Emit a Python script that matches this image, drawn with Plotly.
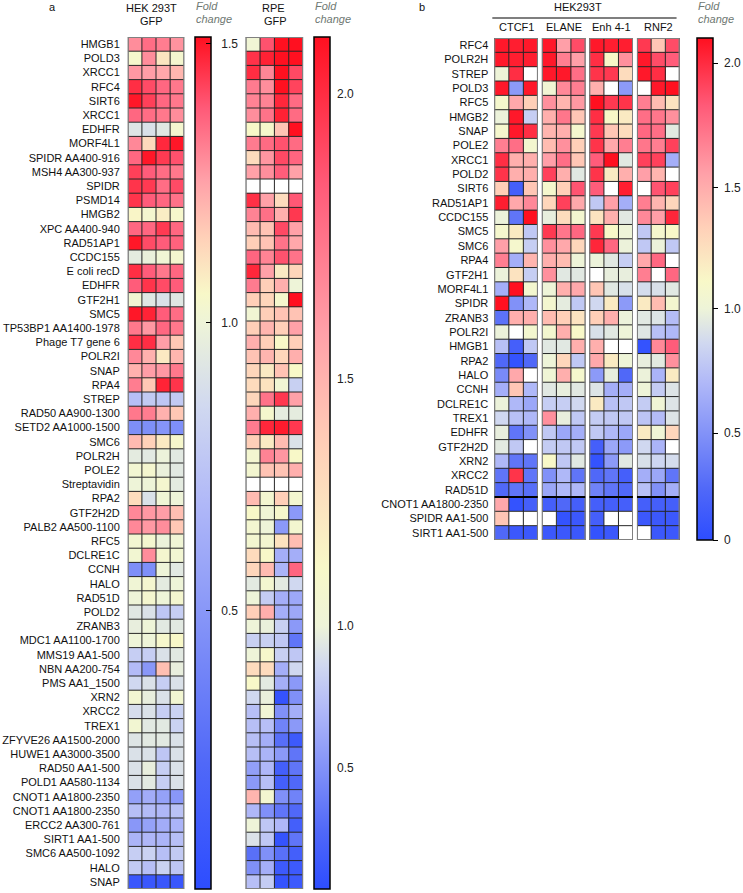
import numpy as np
import plotly.graph_objects as go

W, H = 743, 893
nan = float('nan')

# ---------------- panel a ----------------
a_genes = ['HMGB1', 'POLD3', 'XRCC1', 'RFC4', 'SIRT6', 'XRCC1', 'EDHFR', 'MORF4L1',
           'SPIDR AA400-916', 'MSH4 AA300-937', 'SPIDR', 'PSMD14', 'HMGB2', 'XPC AA400-940',
           'RAD51AP1', 'CCDC155', 'E coli recD', 'EDHFR', 'GTF2H1', 'SMC5',
           'TP53BP1 AA1400-1978', 'Phage T7 gene 6', 'POLR2I', 'SNAP', 'RPA4', 'STREP',
           'RAD50 AA900-1300', 'SETD2 AA1000-1500', 'SMC6', 'POLR2H', 'POLE2', 'Streptavidin',
           'RPA2', 'GTF2H2D', 'PALB2 AA500-1100', 'RFC5', 'DCLRE1C', 'CCNH', 'HALO', 'RAD51D',
           'POLD2', 'ZRANB3', 'MDC1 AA1100-1700', 'MMS19 AA1-500', 'NBN AA200-754',
           'PMS AA1_1500', 'XRN2', 'XRCC2', 'TREX1', 'ZFYVE26 AA1500-2000',
           'HUWE1 AA3000-3500', 'RAD50 AA1-500', 'POLD1 AA580-1134', 'CNOT1 AA1800-2350',
           'CNOT1 AA1800-2350', 'ERCC2 AA300-761', 'SIRT1 AA1-500', 'SMC6 AA500-1092',
           'HALO', 'SNAP']

hek_gfp = [
    [1.29, 1.35, 1.32, 1.28], [1.04, 1.29, 1.10, 1.03], [1.27, 1.26, 1.24, 1.21],
    [1.46, 1.41, 1.36, 1.33], [1.50, 1.43, 1.36, 1.33], [1.36, 1.35, 1.33, 1.29],
    [0.92, 0.90, 0.93, 1.03], [1.30, 1.13, 1.47, 1.50], [1.36, 1.50, 1.44, 1.40],
    [1.43, 1.38, 1.35, 1.33], [1.45, 1.44, 1.35, 1.41], [1.45, 1.38, 1.36, 1.34],
    [1.06, 1.03, 1.08, 1.04], [1.36, 1.36, 1.44, 1.36], [1.50, 1.41, 1.38, 1.37],
    [0.95, 0.98, 1.01, 1.03], [1.46, 1.38, 1.33, 1.36], [1.38, 1.45, 1.41, 1.38],
    [1.02, 0.93, 0.90, 0.93], [1.50, 1.48, 1.38, 1.35], [1.33, 1.27, 1.36, 1.33],
    [1.46, 1.46, 1.26, 1.17], [1.30, 1.22, 1.09, 1.21], [1.22, 1.26, 1.27, 1.33],
    [1.32, 1.17, 1.48, 1.45], [0.72, 0.78, 0.76, 0.78], [1.33, 1.32, 1.22, 1.17],
    [0.45, 0.45, 0.48, 0.45], [1.20, 1.15, 1.09, 1.04], [0.95, 0.94, 0.99, 0.94],
    [1.02, 1.03, 0.98, 0.94], [1.00, 1.00, 1.03, 0.95], [1.12, 0.90, 1.01, 1.00],
    [1.30, 1.27, 1.26, 1.19], [1.30, 1.27, 1.29, 1.17], [1.02, 1.03, 0.99, 1.01],
    [1.02, 1.29, 1.03, 1.02], [0.45, 0.45, 1.00, 0.94], [1.01, 1.03, 0.95, 1.00],
    [1.00, 1.03, 1.00, 1.03], [0.93, 0.90, 0.76, 0.80], [0.97, 1.00, 0.94, 0.94],
    [1.00, 1.00, 1.04, 1.05], [0.80, 0.80, 0.90, 0.94], [0.70, 0.50, 1.19, 0.97],
    [0.85, 0.90, 0.80, 0.90], [1.02, 0.97, 0.90, 1.02], [0.88, 0.90, 0.80, 0.82],
    [1.02, 0.94, 0.94, 0.82], [0.92, 0.94, 0.94, 0.90], [0.90, 0.90, 0.76, 0.90],
    [0.90, 0.97, 0.80, 0.90], [0.90, 0.94, 0.80, 0.90], [0.55, 0.62, 0.56, 0.50],
    [0.72, 0.70, 0.68, 0.74], [0.50, 0.56, 0.62, 0.66], [0.66, 0.68, 0.66, 0.72],
    [0.80, 0.82, 0.72, 0.78], [0.78, 0.72, 0.82, 0.76], [0.08, 0.08, 0.08, 0.08],
]

rpe_gfp = [
    [1.02, 1.87, 2.12, 2.12], [1.98, 2.04, 2.12, 2.10], [2.00, 1.68, 2.10, 1.90],
    [1.72, 1.65, 2.10, 1.92], [1.69, 1.69, 2.02, 1.78], [1.65, 1.75, 2.04, 1.78],
    [1.12, 1.10, 1.42, 2.12], [1.72, 1.78, 1.87, 1.78], [1.29, 1.62, 1.90, 1.80],
    [1.58, 1.65, 1.83, 1.58], [nan, nan, nan, nan], [1.99, 1.58, 1.29, 1.85],
    [1.69, 1.76, 1.52, 1.96], [1.46, 1.42, 1.90, 1.58], [1.36, 1.42, 1.75, 1.55],
    [1.80, 1.69, 1.87, 1.75], [2.02, 1.58, 1.20, 1.33], [1.72, 1.36, 1.52, 1.00],
    [1.36, 1.32, 1.08, 2.12], [1.04, 1.36, 1.42, 1.42], [1.36, 1.49, 1.36, 1.58],
    [1.52, 1.36, 1.12, 1.36], [1.42, 1.49, 1.32, 1.52], [1.32, 1.20, 1.42, 1.12],
    [1.29, 1.25, 1.04, 0.82], [1.32, 1.75, 1.96, 1.58], [1.52, 1.08, 0.96, 0.96],
    [1.72, 2.02, 2.06, 1.96], [1.36, 1.20, 1.46, 0.91], [1.06, 1.69, 1.62, 1.12],
    [1.06, 1.42, 1.42, 1.52], [nan, nan, nan, nan], [1.46, 1.06, 1.36, 1.06],
    [1.12, 1.02, 1.10, 0.54], [1.06, 1.00, 0.54, 1.06], [1.06, 1.06, 1.25, 1.45],
    [1.29, 1.12, 0.65, 0.65], [1.32, 1.46, 0.68, 1.80], [0.95, 1.06, 0.95, 0.86],
    [1.00, 0.80, 0.65, 0.62], [1.36, 1.52, 0.65, 0.62], [1.00, 0.98, 0.82, 0.54],
    [0.82, 0.82, 0.78, 0.35], [1.00, 1.10, 0.82, 0.78], [1.29, 1.29, 0.65, 0.86],
    [1.12, 0.95, 0.65, 0.54], [0.86, 0.98, 0.12, 0.49], [0.74, 1.03, 0.49, 0.65],
    [0.74, 0.74, 0.42, 0.54], [0.74, 0.65, 0.31, 0.17], [0.74, 0.68, 0.54, 0.35],
    [0.57, 0.70, 0.21, 0.35], [0.54, 0.74, 0.21, 0.28], [1.49, 1.06, 0.49, 0.42],
    [0.70, 0.49, 0.35, 0.28], [1.00, 0.78, 0.70, 0.21], [0.91, 0.78, 0.12, 0.35],
    [0.32, 0.49, 0.32, 0.21], [0.49, 0.65, 0.17, 0.17], [0.74, 0.80, 0.12, 0.17],
]

# ---------------- panel b ----------------
b_genes = ['RFC4', 'POLR2H', 'STREP', 'POLD3', 'RFC5', 'HMGB2', 'SNAP', 'POLE2', 'XRCC1',
           'POLD2', 'SIRT6', 'RAD51AP1', 'CCDC155', 'SMC5', 'SMC6', 'RPA4', 'GTF2H1',
           'MORF4L1', 'SPIDR', 'ZRANB3', 'POLR2I', 'HMGB1', 'RPA2', 'HALO', 'CCNH',
           'DCLRE1C', 'TREX1', 'EDHFR', 'GTF2H2D', 'XRN2', 'XRCC2', 'RAD51D',
           'CNOT1 AA1800-2350', 'SPIDR AA1-500', 'SIRT1 AA1-500']
b_groups = ['CTCF1', 'ELANE', 'Enh 4-1', 'RNF2']

ctcf1 = [
    [2.07, 2.05, 2.07], [2.07, 2.05, 2.05], [1.00, 1.99, nan], [2.07, 0.54, 2.07],
    [1.08, 1.52, 1.34], [0.99, 2.07, 0.81], [1.08, 2.07, 1.99], [1.69, 1.75, 1.06],
    [1.99, 1.49, 1.49], [1.97, 1.49, 1.49], [1.34, 0.16, 1.38], [2.05, 1.52, 1.65],
    [0.99, 0.32, 2.10], [1.08, 1.19, 0.78], [1.56, 1.08, 0.81], [1.69, 0.65, 1.46],
    [0.99, 1.23, 0.81], [0.65, 2.10, 1.06], [2.10, 0.49, 0.70], [0.30, 1.49, 1.49],
    [0.99, nan, 1.06], [0.74, 0.16, 0.78], [0.24, 0.05, 0.24], [0.45, 1.52, nan],
    [0.65, 1.38, 0.70], [0.99, 0.70, 0.61], [0.86, 0.74, 0.70], [0.97, 0.32, 0.49],
    [0.95, 0.78, nan], [0.70, 0.32, 0.32], [0.32, 1.97, 0.32], [0.24, 0.32, 0.28],
    [1.52, 0.05, 0.16], [1.38, nan, nan], [0.24, 0.10, 0.10],
]
elane = [
    [2.07, 1.56, 1.88], [2.07, 1.69, 1.56], [2.07, 2.07, 1.75], [1.03, 1.65, 1.69],
    [1.62, 1.46, 1.59], [1.49, 1.72, 1.38], [1.46, 1.49, 1.08], [1.43, 1.62, 1.34],
    [1.56, 1.75, 1.38], [1.92, 1.49, 0.94], [1.08, 1.34, 1.85], [1.30, 1.92, 1.52],
    [0.97, 1.27, 1.06], [1.95, 1.72, 1.78], [1.62, 1.52, 1.30], [1.49, 1.43, 1.00],
    [1.62, 0.94, 0.94], [1.00, 1.49, 1.52], [1.06, 0.96, 0.78], [1.43, 1.34, 1.23],
    [1.06, 1.49, 1.11], [0.94, 0.94, 1.49], [1.00, 1.30, 0.78], [1.02, 1.49, 1.08],
    [0.94, 0.97, 0.94], [0.81, 0.81, 0.86], [1.62, 0.97, 0.78], [0.78, 0.61, 0.65],
    [0.80, 0.78, 0.78], [1.11, 0.78, 0.94], [0.49, 0.70, 0.32], [0.61, 0.70, 0.70],
    [0.16, 0.24, 0.16], [nan, 0.05, 0.10], [0.10, 0.10, 0.10],
]
enh41 = [
    [2.07, 2.05, 2.05], [1.99, 1.11, 1.62], [1.97, 1.95, 1.27], [1.49, nan, 0.54],
    [2.10, 1.95, 1.97], [1.99, 1.11, 1.19], [1.95, 1.38, 1.27], [1.97, 1.52, 1.69],
    [1.82, 2.10, 0.94], [1.97, 1.19, 1.49], [1.82, nan, 2.05], [0.78, 1.56, 0.65],
    [1.23, 1.49, 0.94], [1.95, 1.11, 1.00], [2.02, 1.78, 0.99], [0.99, 0.94, 0.81],
    [nan, 0.97, 0.97], [1.38, 0.94, 0.90], [0.86, 1.19, 0.54], [1.34, 1.49, 0.99],
    [0.90, 0.94, 1.00], [1.49, nan, nan], [1.52, 1.19, 1.00], [0.54, 0.97, 0.24],
    [0.92, 0.65, 0.65], [1.19, 0.74, 0.78], [0.80, 0.78, 0.78], [0.78, 0.70, 0.61],
    [0.16, 0.61, 0.54], [0.05, 0.54, 0.94], [0.24, 0.32, 0.16], [0.40, 0.32, 0.24],
    [0.16, 0.16, 0.16], [0.16, nan, nan], [0.05, 0.10, nan],
]
rnf2 = [
    [1.95, 1.38, 1.88], [2.07, 1.88, 1.82], [2.07, 1.99, nan], [nan, 2.07, 2.10],
    [1.69, 1.43, 1.23], [1.75, 1.72, 1.62], [1.78, 1.75, 0.95], [1.72, 1.69, 1.92],
    [1.92, 1.92, 0.65], [1.56, 1.46, nan], [nan, 1.85, 1.92], [1.69, 1.46, 1.30],
    [1.65, 1.56, 2.02], [0.78, 1.08, 1.11], [0.78, 0.99, 0.78], [1.52, 1.78, nan],
    [1.69, nan, 1.78], [0.88, 0.90, 0.94], [1.19, 1.43, 1.06], [0.94, 0.92, 0.72],
    [0.93, 0.74, 0.70], [0.05, 1.65, 1.82], [0.97, 0.95, 1.62], [0.99, 0.68, 1.19],
    [1.00, 0.80, 0.92], [0.80, 1.02, 0.92], [0.76, 0.72, 0.92], [1.19, 1.02, 1.30],
    [0.86, 0.68, nan], [0.90, 0.85, 0.88], [0.65, 0.61, 0.32], [0.74, 0.49, 0.65],
    [0.16, 0.16, 0.16], [0.10, 0.10, 0.10], [nan, 0.10, 0.10],
]

# colour bar scales: fold change -> fraction along the bar (bottom 0, top 1)
hek_fc, hek_at = [0.0, 0.5, 1.0, 1.5, 1.51], [0.0, 0.327, 0.665, 0.992, 1.0]
rpe_fc, rpe_at = [0.075, 0.5, 1.0, 1.5, 2.0, 2.1], [0.0, 0.142, 0.309, 0.599, 0.933, 1.0]
b_fc, b_at = [0.0, 0.5, 1.0, 1.5, 2.0, 2.1], [0.0, 0.213, 0.461, 0.702, 0.950, 1.0]

# diverging ramp, t=-1 lowest, 0 at fold change 1, +1 highest
RAMP = [(-1.0, '#2d4dff'), (-0.78, '#5068f8'), (-0.55, '#8090f8'), (-0.32, '#b0b8f8'),
        (-0.15, '#d0d8f0'), (0.0, '#eef4d8'), (0.1, '#f8f8c8'), (0.3, '#ffd0b8'),
        (0.5, '#ffa0a8'), (0.75, '#ff5a78'), (1.0, '#ff1020')]


def scale_for(fc, at):
    p1 = float(np.interp(1.0, fc, at))
    cs = []
    for t, c in RAMP:
        p = p1 * (1 + t) if t <= 0 else p1 + t * (1 - p1)
        cs.append([round(p, 4), c])
    return cs


def px(x):
    return x / W


def py(y):
    return 1 - y / H


fig = go.Figure()

# heatmap blocks: (data, fc, at, x-left, x-right, panel)
blocks = [
    (hek_gfp, hek_fc, hek_at, 129, 186, 'a'),
    (rpe_gfp, rpe_fc, rpe_at, 248, 306, 'a'),
    (ctcf1, b_fc, b_at, 499, 543, 'b'),
    (elane, b_fc, b_at, 547, 591, 'b'),
    (enh41, b_fc, b_at, 595, 639, 'b'),
    (rnf2, b_fc, b_at, 643, 686, 'b'),
]
NB = '\u00a0'
bars = {0: (197, 37, 889, [0.5, 1.0, 1.5], 'inside', NB + NB),
        1: (317, 37, 889, [0.5, 1.0, 1.5, 2.0], '', NB),
        5: (704, 38, 540, [0, 0.5, 1.0, 1.5, 2.0], 'outside', NB)}

layout_axes = {}
for i, (data, fc, at, x0, x1, panel) in enumerate(blocks):
    raw = np.array(data, dtype=float)
    z = np.interp(raw, fc, at)
    z[np.isnan(raw)] = np.nan
    nrow, ncol = z.shape
    xa = 'x' if i == 0 else 'x%d' % (i + 1)
    ya = 'y' if panel == 'a' else 'y2'
    tr = go.Heatmap(z=z, x=list(range(ncol)), y=list(range(nrow)), zmin=0, zmax=1,
                    colorscale=scale_for(fc, at), xaxis=xa, yaxis=ya,
                    showscale=i in bars, hoverinfo='skip')
    if i in bars:
        bx, by0, by1, tv, tk, pre = bars[i]
        tr.colorbar = dict(
            x=px(bx), xanchor='left', y=py(by0), yanchor='top',
            len=(by1 - by0) / H, lenmode='fraction', thickness=16, xpad=0, ypad=0,
            outlinewidth=1.5, outlinecolor='black',
            tickvals=list(np.interp(tv, fc, at)),
            ticktext=[pre + ('0' if v == 0 else '%.1f' % v) for v in tv],
            ticks=tk, ticklen=5, tickcolor='black',
            tickfont=dict(size=12, color='#222'))
    fig.add_trace(tr)

    # cell borders
    gx, gy = [], []
    for r in range(nrow + 1):
        gx += [-0.5, ncol - 0.5, None]
        gy += [r - 0.5, r - 0.5, None]
    for c in range(ncol + 1):
        gx += [c - 0.5, c - 0.5, None]
        gy += [-0.5, nrow - 0.5, None]
    fig.add_trace(go.Scatter(x=gx, y=gy, mode='lines', line=dict(color='#262626', width=1),
                             xaxis=xa, yaxis=ya, hoverinfo='skip', showlegend=False))
    fig.add_trace(go.Scatter(x=[-0.5, ncol - 0.5, ncol - 0.5, -0.5, -0.5],
                             y=[-0.5, -0.5, nrow - 0.5, nrow - 0.5, -0.5], mode='lines',
                             line=dict(color='#808080', width=2), xaxis=xa, yaxis=ya,
                             hoverinfo='skip', showlegend=False))
    if panel == 'b':
        fig.add_trace(go.Scatter(x=[-0.5, ncol - 0.5], y=[31.5, 31.5], mode='lines',
                                 line=dict(color='black', width=2), xaxis=xa, yaxis=ya,
                                 hoverinfo='skip', showlegend=False))

    key = 'xaxis' if i == 0 else 'xaxis%d' % (i + 1)
    layout_axes[key] = dict(domain=[px(x0), px(x1)], range=[-0.5, ncol - 0.5],
                            showticklabels=False, showgrid=False, zeroline=False,
                            anchor=ya, fixedrange=True)

layout_axes['yaxis'] = dict(domain=[py(889), py(37)], range=[len(a_genes) - 0.5, -0.5],
                            tickmode='array', tickvals=list(range(len(a_genes))),
                            ticktext=a_genes, showgrid=False, zeroline=False, anchor='x',
                            ticks='', ticklabelstandoff=7,
                            tickfont=dict(size=11, color='#111'))
layout_axes['yaxis2'] = dict(domain=[py(540), py(38)], range=[len(b_genes) - 0.5, -0.5],
                             tickmode='array', tickvals=list(range(len(b_genes))),
                             ticktext=b_genes, showgrid=False, zeroline=False, anchor='x3',
                             ticks='', ticklabelstandoff=5,
                             tickfont=dict(size=11, color='#111'))

ann = []


def text(s, x, y, size=11, color='#111', xanchor='center', italic=False):
    ann.append(dict(text=('<i>%s</i>' % s) if italic else s, x=px(x), y=py(y),
                    xref='paper', yref='paper', showarrow=False, xanchor=xanchor,
                    yanchor='middle', font=dict(size=size, color=color)))


text('a', 53, 7)
text('HEK 293T', 153, 8)
text('GFP', 153, 21)
text('RPE', 276, 8)
text('GFP', 278, 21)
for bx in (196, 316, 703):
    text('Fold', bx, 6, color='#6e7872', xanchor='left', italic=True)
    text('change', bx, 19, color='#6e7872', xanchor='left', italic=True)
text('b', 426, 7)
text('HEK293T', 584, 7)
for g, (_, _, _, x0, x1, _) in zip(b_groups, blocks[2:]):
    text(g, (x0 + x1) / 2, 27)

fig.update_layout(
    width=W, height=H, margin=dict(l=0, r=0, t=0, b=0),
    paper_bgcolor='white', plot_bgcolor='white',
    font=dict(family='Liberation Sans, Arial, sans-serif', color='#111'),
    showlegend=False, annotations=ann,
    shapes=[dict(type='line', xref='paper', yref='paper', x0=px(497), x1=px(683),
                 y0=py(18), y1=py(18), line=dict(color='#555', width=1.5))],
    **layout_axes)

fig.write_html('out.html', config={'displayModeBar': False},
               post_script="document.body.style.margin='0';")
